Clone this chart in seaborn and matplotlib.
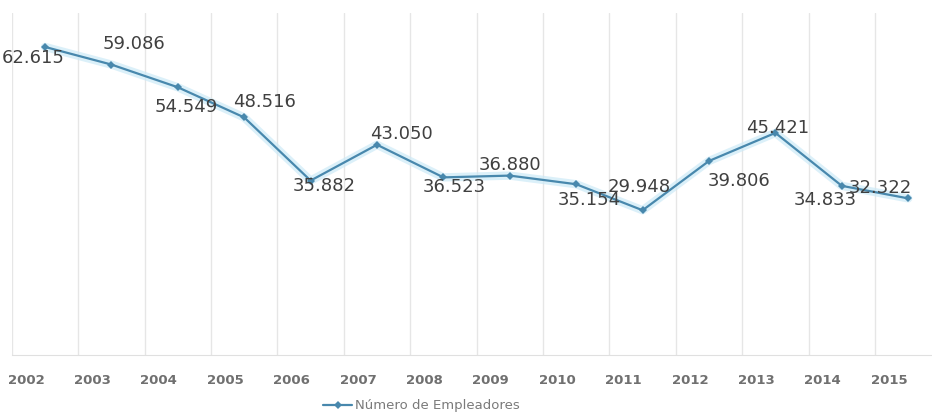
import matplotlib
matplotlib.use("Agg")
import matplotlib.pyplot as plt
import matplotlib.transforms as mtransforms
import numpy as np
import pandas as pd
import seaborn as sns

# data
years = ["2002", "2003", "2004", "2005", "2006", "2007", "2008",
         "2009", "2010", "2011", "2012", "2013", "2014", "2015"]
empleadores = [62.615, 59.086, 54.549, 48.516, 35.882, 43.050, 36.523,
               36.880, 35.154, 29.948, 39.806, 45.421, 34.833, 32.322]
labels = ["62.615", "59.086", "54.549", "48.516", "35.882", "43.050", "36.523",
          "36.880", "35.154", "29.948", "39.806", "45.421", "34.833", "32.322"]

# where each value label sits relative to its point (pixels, +y = up)
label_dx = [-12, 23, 8, 20, 14, 24, 11, 0, 13, -3, 30, 2, -17, -28]
label_dy = [-11, 21, -20, 15, -5, 11, -10, 11, -16, 23, -20, 5, -14, 10]

line_color = "#4888ad"

sns.set_style("white")
plt.rcParams["font.family"] = ["DejaVu Sans"]

df = pd.DataFrame({"year": years, "value": empleadores})
df["pos"] = np.arange(len(df))

fig = plt.figure(figsize=(9.32, 4.18), dpi=100)
ax = fig.add_axes([11.8 / 932, 63 / 418, 929.6 / 932, 342 / 418])

# soft glow under the line
sns.lineplot(data=df, x="pos", y="value", ax=ax, color="#cdeaf7",
             linewidth=6, alpha=0.7, legend=False)
sns.lineplot(data=df, x="pos", y="value", ax=ax, color=line_color,
             linewidth=1.6, marker="D", markersize=4.5, markeredgewidth=0,
             label="Número de Empleadores")

for i, v in enumerate(empleadores):
    ax.annotate(labels[i], (i, v), xytext=(label_dx[i], label_dy[i]),
                textcoords="offset pixels", ha="center", va="center",
                fontsize=13, color="#404040")

ax.set_xlim(-0.5, len(years) - 0.5)
ax.set_ylim(1, 69.4)
ax.set_xticks(np.arange(len(years)))
ax.set_xticklabels(years, fontsize=9.5, color="#707070", fontweight="bold")
ax.set_yticks([])
ax.set_xticks(np.arange(len(years) + 1) - 0.5, minor=True)
ax.grid(False)
ax.grid(True, which="minor", axis="x", color="#e6e6e6", linewidth=1)
ax.tick_params(axis="x", which="both", length=0, pad=14)
ax.set_xlabel("")
ax.set_ylabel("")

# year labels sit a little left of their points in the reference
shift = mtransforms.ScaledTranslation(-19 / 100, 0, fig.dpi_scale_trans)
for lab in ax.get_xticklabels():
    lab.set_transform(lab.get_transform() + shift)

for side in ["top", "right", "left"]:
    ax.spines[side].set_visible(False)
ax.spines["bottom"].set_color("#e0e0e0")

ax.legend(loc="center", bbox_to_anchor=(0.452, 12 / 418),
          bbox_transform=fig.transFigure, frameon=False, fontsize=9.5,
          labelcolor="#7a7a7a", handlelength=2.2, handletextpad=0.2)

fig.savefig("out.png", dpi=100)
